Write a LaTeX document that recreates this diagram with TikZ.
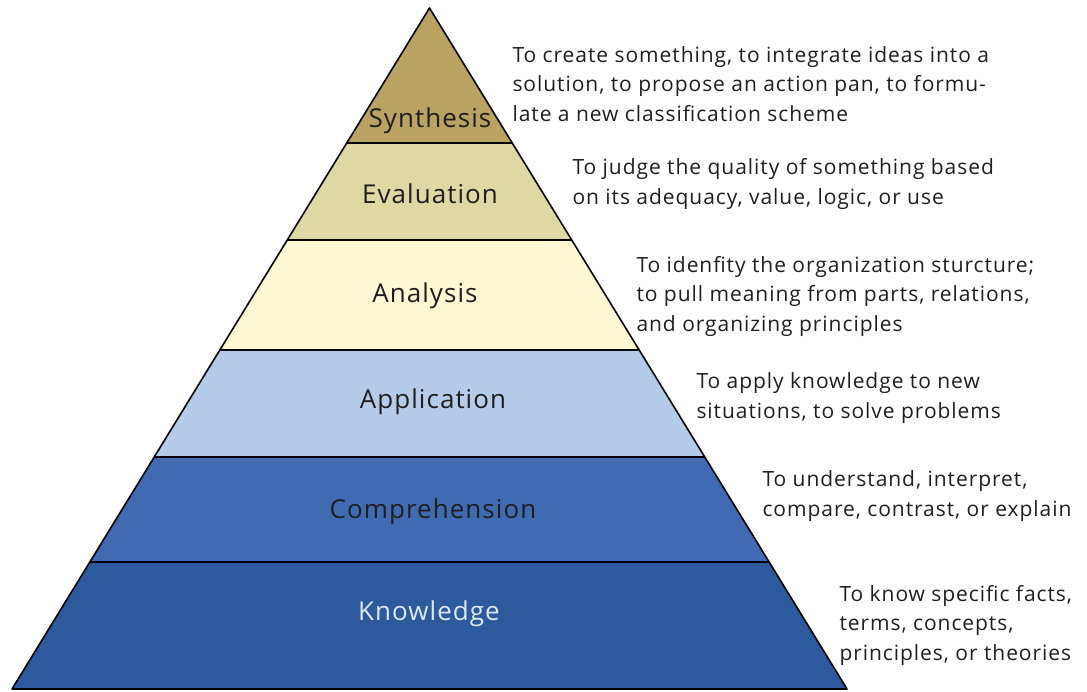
\documentclass[tikz,border=0pt]{standalone}
\usepackage{fontspec}
\setmainfont{Open Sans}
\newfontfamily\descfont{Open Sans}[LetterSpace=4.5]
\newfontfamily\bandfont{Open Sans}[LetterSpace=4]
\usepackage{tikz}
\usetikzlibrary{calc, positioning}
\usepackage{xcolor}
\definecolor{synthesis}{RGB}{186,162,98}
\definecolor{evaluation}{RGB}{222,216,162}
\definecolor{analysis}{RGB}{252,248,212}
\definecolor{application}{RGB}{180,204,234}
\definecolor{comprehension}{RGB}{64,106,178}
\definecolor{knowledge}{RGB}{44,90,156}
\definecolor{lighttext}{RGB}{222,232,244}

\begin{document}
\begin{tikzpicture}[x=1pt,y=-1pt]

% TikZ styles
\tikzset{
  band/.style={draw=black, line width=1.6pt, line join=round},
  bandtext/.style={font=\bandfont\fontsize{26}{28}\selectfont, text=black!88},
  desctext/.style={anchor=west, align=left, font=\descfont\fontsize{21}{29.5}\selectfont, text=black!88}
}
\useasboundingbox (0,0) rectangle (1087,692);

%==========================
% Pyramide
%==========================
\coordinate (apex) at (429.5,8);
\coordinate (baseleft) at (12,689);
\coordinate (baseright) at (847,689);

\foreach \ya/\yb/\col in {8/143/synthesis, 143/240/evaluation, 240/350/analysis, 350/457/application, 457/562/comprehension, 562/689/knowledge}{
  \fill[\col] ($(apex)!{(\ya-8)/681}!(baseleft)$) -- ($(apex)!{(\yb-8)/681}!(baseleft)$)
    -- ($(apex)!{(\yb-8)/681}!(baseright)$) -- ($(apex)!{(\ya-8)/681}!(baseright)$) -- cycle;
}
\foreach \y in {143, 240, 350, 457, 562}{
  \draw[band] ($(apex)!{(\y-8)/681}!(baseleft)$) -- ($(apex)!{(\y-8)/681}!(baseright)$);
}
\draw[band] (apex) -- (baseleft) -- (baseright) -- cycle;

% Stufen
\node[bandtext] (synth) at (430,121) {Synthesis};
\node[bandtext] (eval)  at (430,194) {Evaluation};
\node[bandtext] (analy) at (425,296) {Analysis};
\node[bandtext] (appl)  at (433,402) {Application};
\node[bandtext] (comp)  at (433,512) {Comprehension};
\node[bandtext, text=lighttext] (know) at (429,614) {Knowledge};

% Beschreibungen
\node[desctext] (synthdesc) at (509,84) {To create something, to integrate ideas into a\\solution, to propose an action pan, to formu-\\late a new classification scheme};
\node[desctext] (evaldesc)  at (569,184) {To judge the quality of something based\\on its adequacy, value, logic, or use};
\node[desctext] (analydesc) at (633,296) {To idenfity the organization sturcture;\\to pull meaning from parts, relations,\\and organizing principles};
\node[desctext] (appldesc)  at (693,398) {To apply knowledge to new\\situations, to solve problems};
\node[desctext] (compdesc)  at (759,496) {To understand, interpret,\\compare, contrast, or explain};
\node[desctext] (knowdesc)  at (836,625) {To know specific facts,\\terms, concepts,\\principles, or theories};

\end{tikzpicture}
\end{document}
